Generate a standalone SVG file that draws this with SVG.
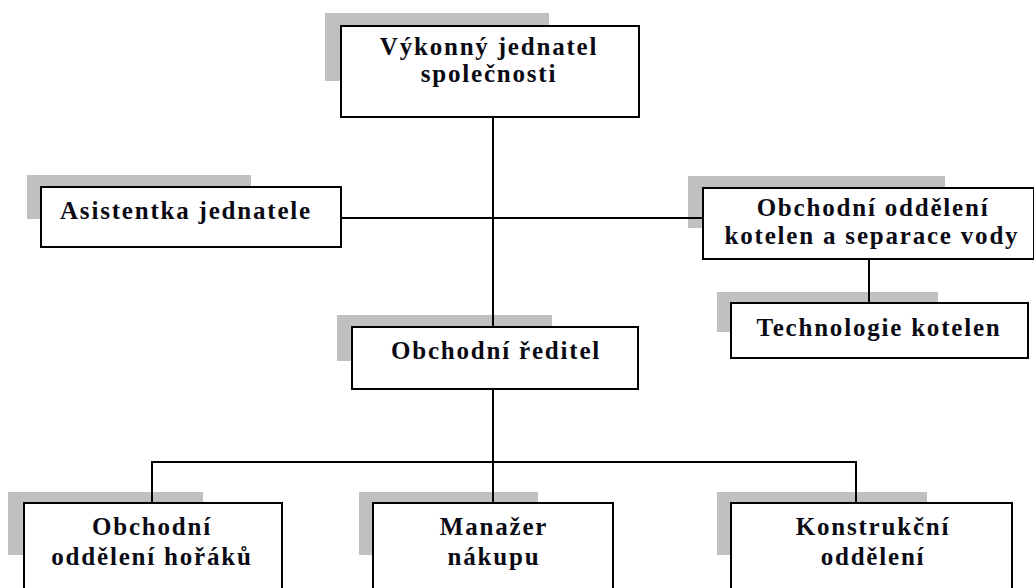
<svg xmlns="http://www.w3.org/2000/svg" width="1034" height="588" viewBox="0 0 1034 588">
<style>
.sh{fill:#c0c0c0}
.box{fill:#fff;stroke:#000;stroke-width:2}
.t{font-family:"Liberation Serif","Times New Roman",serif;font-weight:bold;font-size:25px;letter-spacing:1.8px;fill:#0a0a14;text-anchor:middle}
.c{stroke:#000;stroke-width:2;fill:none}
</style>
<rect width="1034" height="588" fill="#fff"/>
<g id="shadows">
<rect class="sh" x="325" y="13" width="224" height="68"/>
<rect class="sh" x="27" y="175" width="224" height="44"/>
<rect class="sh" x="688" y="176" width="257" height="52"/>
<rect class="sh" x="717" y="292" width="221" height="40"/>
<rect class="sh" x="337" y="315" width="215" height="46"/>
<rect class="sh" x="8" y="492" width="195" height="63"/>
<rect class="sh" x="359" y="492" width="179" height="63"/>
<rect class="sh" x="717" y="492" width="210" height="63"/>
</g>
<g id="connectors">
<path class="c" d="M493 117V327"/>
<path class="c" d="M341 218H703"/>
<path class="c" d="M869 259V303"/>
<path class="c" d="M493 389V462"/>
<path class="c" d="M152 503V462H856V503"/>
<path class="c" d="M493 462V503"/>
</g>
<g id="n-jednatel">
<rect class="box" x="341" y="26" width="298" height="91"/>
<text class="t" x="489" y="55">Výkonný jednatel</text>
<text class="t" x="489" y="82">společnosti</text>
</g>
<g id="n-asistentka">
<rect class="box" x="41" y="187" width="300" height="60"/>
<text class="t" x="186" y="219">Asistentka jednatele</text>
</g>
<g id="n-obchodni-kotelen">
<rect class="box" x="703" y="188" width="331" height="71"/>
<text class="t" x="873" y="216">Obchodní oddělení</text>
<text class="t" x="872" y="244">kotelen a separace vody</text>
</g>
<g id="n-technologie">
<rect class="box" x="731" y="303" width="297" height="55"/>
<text class="t" x="879" y="336">Technologie kotelen</text>
</g>
<g id="n-reditel">
<rect class="box" x="352" y="327" width="286" height="62"/>
<text class="t" x="496" y="359">Obchodní ředitel</text>
</g>
<g id="n-horaky">
<rect class="box" x="24" y="503" width="258" height="100"/>
<text class="t" x="152" y="535">Obchodní</text>
<text class="t" x="152" y="565">oddělení hořáků</text>
</g>
<g id="n-nakup">
<rect class="box" x="373" y="503" width="240" height="100"/>
<text class="t" x="494" y="535">Manažer</text>
<text class="t" x="494" y="565">nákupu</text>
</g>
<g id="n-konstrukce">
<rect class="box" x="731" y="503" width="281" height="100"/>
<text class="t" x="873" y="535">Konstrukční</text>
<text class="t" x="873" y="565">oddělení</text>
</g>
</svg>
